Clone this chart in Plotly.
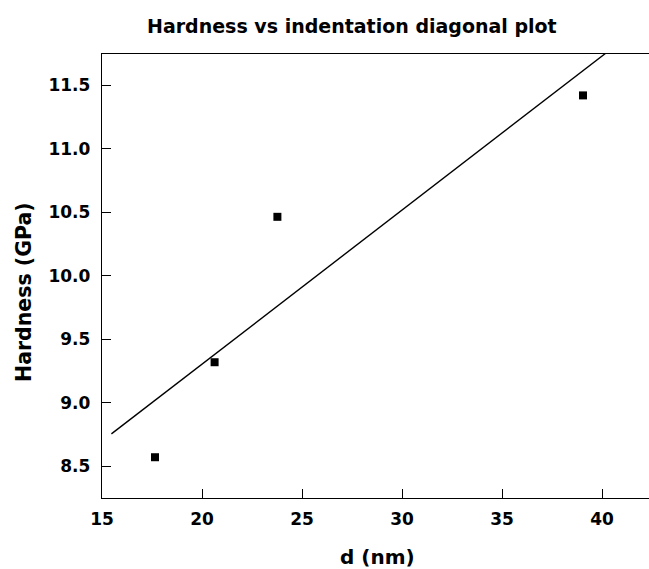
import plotly.graph_objects as go

# Data
d_nm = [17.65, 20.63, 23.77, 39.05]
hardness_gpa = [8.571, 9.319, 10.464, 11.42]

# Fitted line (endpoints)
fit_x = [15.47, 40.17]
fit_y = [8.755, 11.75]

x_ticks = [15, 20, 25, 30, 35, 40]
y_ticks = [8.5, 9.0, 9.5, 10.0, 10.5, 11.0, 11.5]
y_tick_text = ["8.5", "9.0", "9.5", "10.0", "10.5", "11.0", "11.5"]

FONT = "DejaVu Sans, Arial, sans-serif"

fig = go.Figure()
fig.add_trace(go.Scatter(x=fit_x, y=fit_y, mode="lines",
                         line=dict(color="black", width=1.4),
                         showlegend=False, hoverinfo="skip"))
fig.add_trace(go.Scatter(x=d_nm, y=hardness_gpa, mode="markers",
                         marker=dict(symbol="square", size=8, color="black"),
                         showlegend=False))

L, R, T, B, W, H = 102, 0, 54, 71, 649, 569
fig.update_layout(
    width=W, height=H,
    margin=dict(l=L, r=R, t=T, b=B),
    paper_bgcolor="white", plot_bgcolor="white",
    font=dict(family=FONT, color="black"),
    showlegend=False,
)
fig.update_xaxes(
    range=[15, 42.35], tickvals=x_ticks, ticks="inside", ticklen=9, tickwidth=1.4,
    tickcolor="black", showline=True, linecolor="black", linewidth=1.4, mirror=True,
    showgrid=False, zeroline=False,
    tickfont=dict(size=17, family=FONT, weight="bold", color="black"),
    ticklabelstandoff=5,
)
fig.update_yaxes(
    range=[8.25, 11.746], tickvals=y_ticks, ticktext=y_tick_text, ticks="inside",
    ticklen=9, tickwidth=1.4, tickcolor="black", showline=True, linecolor="black",
    linewidth=1.4, showgrid=False, zeroline=False,
    tickfont=dict(size=17, family=FONT, weight="bold", color="black"),
    ticklabelstandoff=7,
)

pw, ph = W - L - R, H - T - B
def px_to_paper(px, py):
    return (px - L) / pw, (H - B - py) / ph

for text, (px, py), size, angle in [
    ("Hardness vs indentation diagonal plot", (352, 26), 19, 0),
    ("d (nm)", (377, 557), 20, 0),
    ("Hardness (GPa)", (24, 292), 20.5, -90),
]:
    xp, yp = px_to_paper(px, py)
    fig.add_annotation(text=text, xref="paper", yref="paper", x=xp, y=yp,
                       xanchor="center", yanchor="middle", showarrow=False,
                       textangle=angle,
                       font=dict(size=size, family=FONT, weight="bold", color="black"))

fig.write_html("out.html")
